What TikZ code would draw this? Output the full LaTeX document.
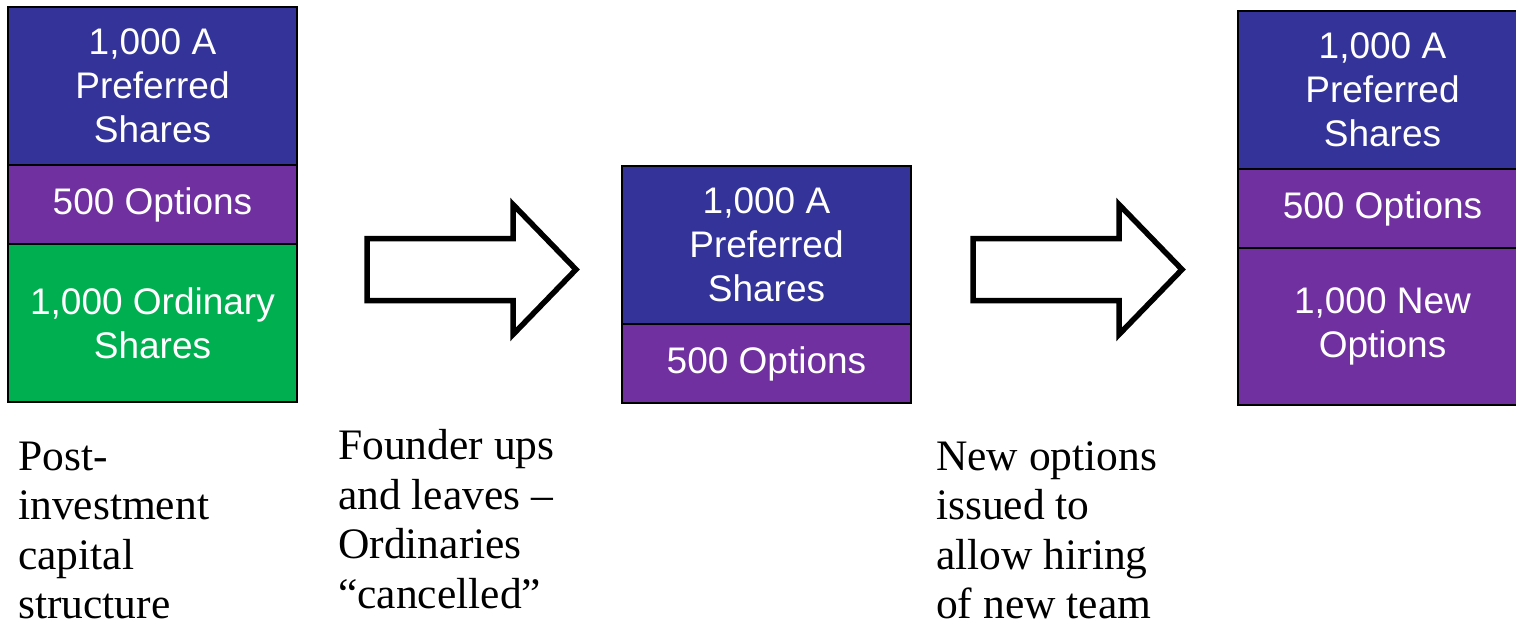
\documentclass[tikz,border=0pt]{standalone}
\usepackage{fontspec}
\setmainfont{Liberation Serif}
\newfontfamily\boxfont{Liberation Sans}
\usepackage{tikz}
\usetikzlibrary{positioning}
\definecolor{prefblue}{HTML}{333399}
\definecolor{optpurple}{HTML}{7030A0}
\definecolor{ordgreen}{HTML}{00B050}
\tikzset{
  block/.style={draw=black, line width=1.2pt, text=white, align=center,
    minimum width=289pt, inner sep=0pt, outer sep=0pt,
    font=\boxfont\fontsize{37}{44}\selectfont},
  prefblock/.style={block, fill=prefblue, minimum height=158pt},
  optblock/.style={block, fill=optpurple, minimum height=79pt},
  ordblock/.style={block, fill=ordgreen, minimum height=158pt},
  newblock/.style={block, fill=optpurple, minimum height=157pt},
  note/.style={align=left, inner sep=0pt, anchor=base west,
    font=\fontsize{43.5}{49.5}\selectfont},
  arrowline/.style={draw=black, fill=white, line width=5.5pt, line join=miter},
  fatarrow/.pic={
    \draw[arrowline] (0,-31) -- (146,-31) -- (146,-65) -- (209,0)
      -- (146,65) -- (146,31) -- (0,31) -- cycle;
  }
}
\begin{document}
\begin{tikzpicture}[x=1pt, y=-1pt]
  \clip (0,0) rectangle (1516,626);

  % before
  \node[prefblock] (prefA) at (152.5,86) {1,000 A\\Preferred\\Shares};
  \node[optblock, below=0pt of prefA] (optA) {500 Options};
  \node[ordblock, below=0pt of optA] (ordA) {1,000 Ordinary\\Shares};

  % after founder leaves
  \node[prefblock] (prefB) at (766.5,245) {1,000 A\\Preferred\\Shares};
  \node[optblock, below=0pt of prefB] (optB) {500 Options};

  % after new options
  \node[prefblock] (prefC) at (1382.5,90) {1,000 A\\Preferred\\Shares};
  \node[optblock, below=0pt of prefC] (optC) {500 Options};
  \node[newblock, below=0pt of optC] (newC) {1,000 New\\Options};

  \pic (arrA) at (367,269.5) {fatarrow};
  \pic (arrB) at (973,269.5) {fatarrow};

  % base of a note = baseline of its last line
  \node[note] (noteA) at (18,618.5) {Post-\\investment\\capital\\structure};
  \node[note] (noteB) at (338,608) {Founder ups\\and leaves --\\Ordinaries\\``cancelled''};
  \node[note] (noteC) at (936,618.5) {New options\\issued to\\allow hiring\\of new team};
\end{tikzpicture}
\end{document}
